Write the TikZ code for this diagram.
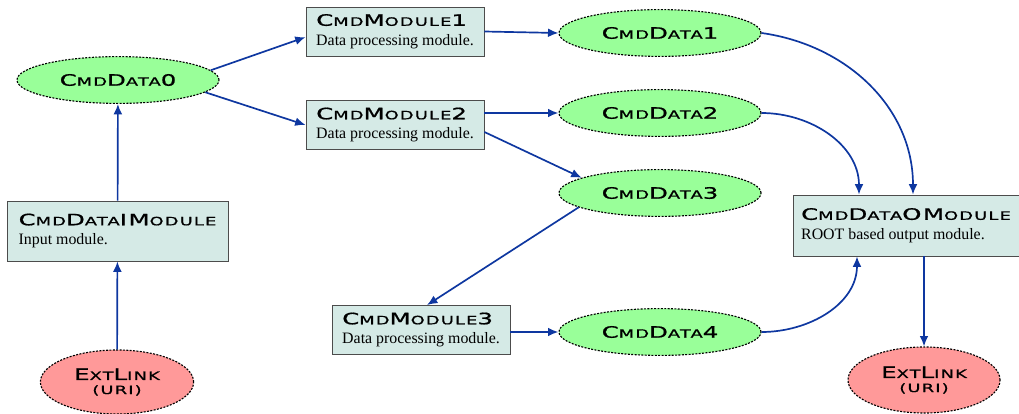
\documentclass[tikz,border=0pt]{standalone}
\usepackage{fontspec}
\setmainfont{Liberation Serif}
\newfontfamily\ttlfont[FakeStretch=1.55,FakeBold=0.9,LetterSpace=10]{DejaVu Sans}
\usetikzlibrary{shapes.geometric,arrows.meta}

\definecolor{modfill}{RGB}{213,234,230}
\definecolor{datafill}{RGB}{153,255,153}
\definecolor{linkfill}{RGB}{255,153,153}
\definecolor{flowblue}{RGB}{14,55,160}

% title in wide small capitals, small part with \sm
\newcommand{\ttl}[1]{{\ttlfont\fontsize{11.2}{13}\selectfont #1}}
\newcommand{\sm}[1]{{\fontsize{8.2}{9.5}\selectfont #1}}

\begin{document}
\begin{tikzpicture}[x=0.025cm,y=-0.025cm,
  module/.style={draw=black!70,fill=modfill,align=left,line width=0.6pt,
    inner sep=2pt,minimum width=4.45cm,minimum height=1.225cm,
    font=\fontsize{11.3}{13}\selectfont},
  data/.style={ellipse,draw=black,fill=datafill,line width=0.8pt,
    dash pattern=on 1.4pt off 1pt,minimum width=5.05cm,minimum height=1.17cm},
  extlink/.style={data,fill=linkfill,align=center,minimum width=3.83cm,minimum height=1.6cm},
  flow/.style={draw=flowblue,line width=1.2pt,-{Latex[length=2.6mm,width=2.2mm]}}]
  \useasboundingbox (0,0) rectangle (1019,414);

  % input side
  \node[extlink] (e1) at (117,382) {\ttl{E\sm{XT}L\sm{INK}}\\[-2pt]\ttl{\sm{(URI)}}};
  \node[module,minimum width=5.525cm,minimum height=1.5cm] (im) at (117.5,231)
    {\ttl{C\sm{MD}D\sm{ATA}IM\sm{ODULE}}\\[1pt]Input module.};
  \node[data] (d0) at (118,80) {\ttl{C\sm{MD}D\sm{ATA}0}};

  % processing modules
  \node[module] (m1) at (395,31.5) {\ttl{C\sm{MD}M\sm{ODULE}1}\\[1pt]Data processing module.};
  \node[module] (m2) at (395,125) {\ttl{C\sm{MD}M\sm{ODULE}2}\\[1pt]Data processing module.};
  \node[module] (m3) at (421,330) {\ttl{C\sm{MD}M\sm{ODULE}3}\\[1pt]Data processing module.};

  % data objects
  \node[data] (d1) at (660,33) {\ttl{C\sm{MD}D\sm{ATA}1}};
  \node[data] (d2) at (660,113) {\ttl{C\sm{MD}D\sm{ATA}2}};
  \node[data] (d3) at (660,193) {\ttl{C\sm{MD}D\sm{ATA}3}};
  \node[data] (d4) at (660,332) {\ttl{C\sm{MD}D\sm{ATA}4}};

  % output side
  \node[module,minimum width=5.65cm,minimum height=1.525cm] (om) at (906,225.5)
    {\ttl{C\sm{MD}D\sm{ATA}OM\sm{ODULE}}\\[1pt]ROOT based output module.};
  \node[extlink,minimum width=3.8cm,minimum height=1.65cm] (e2) at (924,380)
    {\ttl{E\sm{XT}L\sm{INK}}\\[-2pt]\ttl{\sm{(URI)}}};

  % connectors
  \draw[flow] (e1) -- (im);
  \draw[flow] (im) -- (d0);
  \draw[flow] (d0.6) -- ([yshift=-0.14cm]m1.west);
  \draw[flow] (d0.-8) -- (m2.west);
  \draw[flow] (m1.east) -- (d1.west);
  \draw[flow] (m2.east |- d2) -- (d2);
  \draw[flow] ([yshift=-0.175cm]m2.east) -- (d3.169);
  \draw[flow] (d3.190) -- ([xshift=0.15cm]m3.north);
  \draw[flow] (m3.east |- d4) -- (d4);
  \draw[flow] (d1.east) to[out=-8,in=90] ([xshift=0.175cm]om.north);
  \draw[flow] (d2.east) to[out=0,in=90] ([xshift=-1.175cm]om.north);
  \draw[flow] (d4.east) to[out=0,in=-90] ([xshift=-1.225cm]om.south);
  \draw[flow] (om.south -| e2) -- (e2);
\end{tikzpicture}
\end{document}
